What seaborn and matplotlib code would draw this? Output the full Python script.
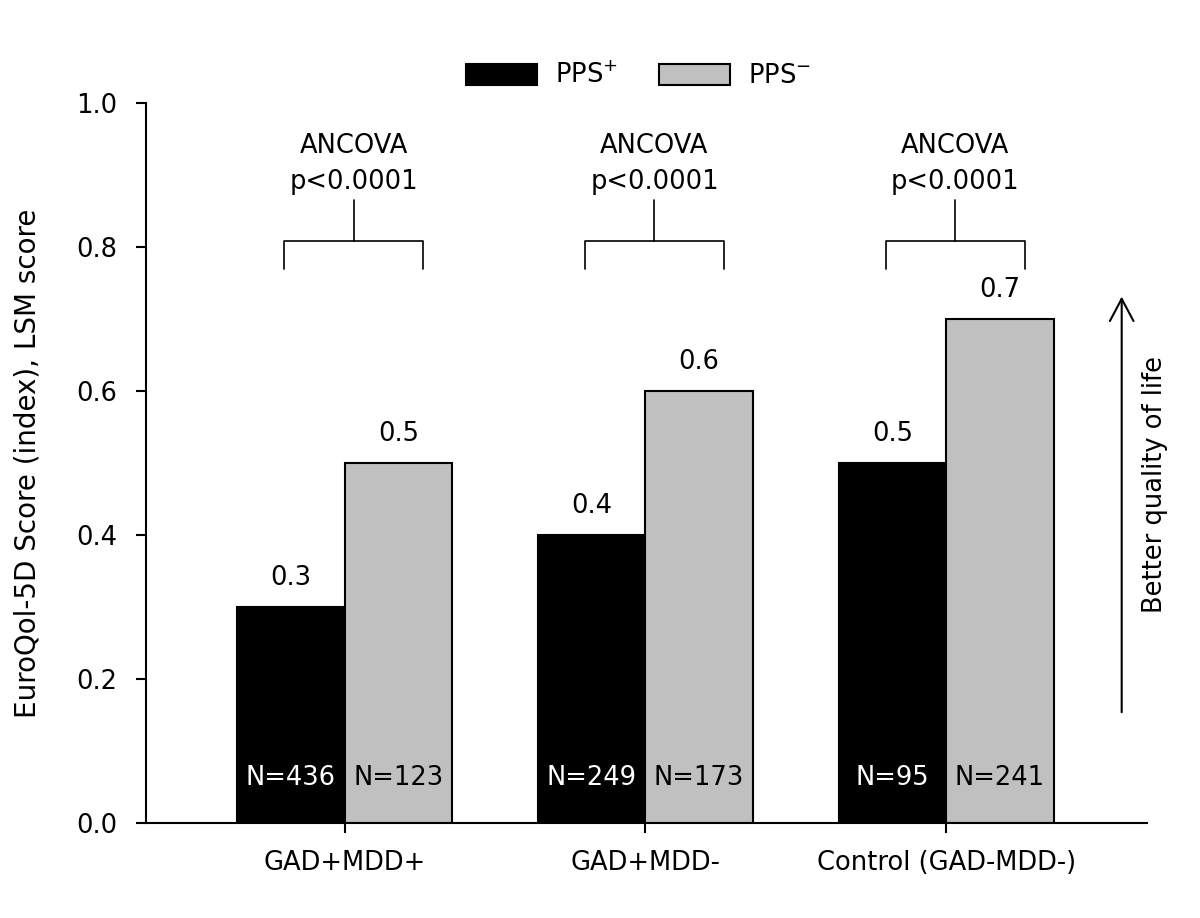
import numpy as np
import pandas as pd
import seaborn as sns
import matplotlib.pyplot as plt
from matplotlib.patches import Patch

# data
groups = ['GAD+MDD+', 'GAD+MDD-', 'Control (GAD-MDD-)']
pps_pos = [0.3, 0.4, 0.5]
pps_neg = [0.5, 0.6, 0.7]
n_pos = [436, 249, 95]
n_neg = [123, 173, 241]
p_text = ['p<0.0001', 'p<0.0001', 'p<0.0001']

sns.set_style('ticks')
plt.rcParams['font.family'] = ['DejaVu Sans']
plt.rcParams['mathtext.fontset'] = 'dejavusans'
plt.rcParams.update({'text.color': 'black', 'axes.labelcolor': 'black',
                     'xtick.color': 'black', 'ytick.color': 'black',
                     'axes.edgecolor': 'black'})

FS = 18.5

df = pd.DataFrame({
    'group': groups * 2,
    'score': pps_pos + pps_neg,
    'pps': ['PPS+'] * 3 + ['PPS-'] * 3,
})

fig = plt.figure(figsize=(12, 9.18), dpi=100)
ax = fig.add_axes([0.1217, 0.1035, 0.8341, 0.7843])

colors = {'PPS+': 'black', 'PPS-': '#c0c0c0'}
sns.barplot(data=df, x='group', y='score', hue='pps', order=groups,
            hue_order=['PPS+', 'PPS-'], palette=colors, width=0.714,
            edgecolor='black', linewidth=1.5, ax=ax, legend=False)

half = 0.714 / 4
for i in range(3):
    # values above bars
    ax.text(i - half, pps_pos[i] + 0.04, f'{pps_pos[i]:.1f}', ha='center', va='center', fontsize=FS)
    ax.text(i + half, pps_neg[i] + 0.04, f'{pps_neg[i]:.1f}', ha='center', va='center', fontsize=FS)
    # sample sizes
    ax.text(i - half, 0.062, f'N={n_pos[i]}', ha='center', va='center', fontsize=FS, color='white')
    ax.text(i + half, 0.062, f'N={n_neg[i]}', ha='center', va='center', fontsize=FS, color='black')
    # brackets
    c = i + 0.03
    ax.plot([c - 0.23, c - 0.23, c + 0.23, c + 0.23], [0.77, 0.808, 0.808, 0.77], color='black', lw=1.2)
    ax.plot([c, c], [0.808, 0.865], color='black', lw=1.2)
    ax.text(c, 0.94, 'ANCOVA', ha='center', va='center', fontsize=FS)
    ax.text(c, 0.89, p_text[i], ha='center', va='center', fontsize=FS)

# quality arrow
ax.annotate('', xy=(2.583, 0.735), xytext=(2.583, 0.15),
            arrowprops=dict(arrowstyle='->,head_length=1.6,head_width=0.85', color='black', lw=1.5),
            annotation_clip=False)
ax.text(2.695, 0.47, 'Better quality of life', rotation=90, ha='center', va='center',
        fontsize=FS, clip_on=False)

ax.set_xlim(-0.66, 2.667)
ax.set_ylim(0, 1.0)
ax.set_yticks(np.arange(0, 1.01, 0.2))
ax.set_yticklabels([f'{v:.1f}' for v in np.arange(0, 1.01, 0.2)])
ax.set_xlabel('')
ax.set_ylabel('EuroQol-5D Score (index), LSM score', fontsize=20)
ax.yaxis.set_label_coords(-0.104, 0.5)
ax.tick_params(axis='both', labelsize=FS, length=7.5, width=1.5, direction='out')
ax.tick_params(axis='y', pad=13)
ax.tick_params(axis='x', pad=12)
for s in ['left', 'bottom']:
    ax.spines[s].set_linewidth(1.5)
sns.despine(ax=ax)

handles = [Patch(facecolor='black', edgecolor='black', linewidth=1.5),
           Patch(facecolor='#c0c0c0', edgecolor='black', linewidth=1.5)]
fig.legend(handles, ['PPS$^{+}$', 'PPS$^{-}$'], loc='center', bbox_to_anchor=(0.532, 0.917),
           ncol=2, frameon=False, fontsize=FS, handlelength=2.75, handleheight=0.85,
           columnspacing=1.6, handletextpad=0.7)

fig.savefig('out.png', dpi=100)
